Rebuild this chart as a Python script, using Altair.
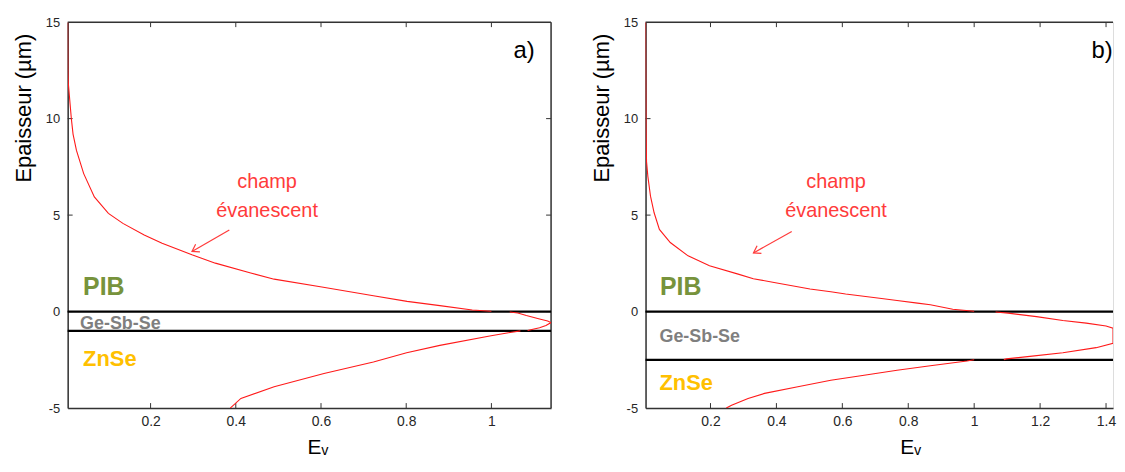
import altair as alt
import pandas as pd

FONT = "Liberation Sans"
RED = "#ff1a1a"
TXT_RED = "#ff3b3b"
BORDER = "#333333"
H = 388

# ---------------- data ----------------
y_ticks = [-5, 0, 5, 10, 15]

# panel a)
a_x_ticks = [0.2, 0.4, 0.6, 0.8, 1]
a_pib_x = [0.0054, 0.006, 0.007, 0.014, 0.018, 0.026, 0.043, 0.068, 0.101, 0.135, 0.185,
           0.227, 0.297, 0.352, 0.435, 0.49, 0.602, 0.685, 0.723, 0.802, 0.879, 0.955, 1.0]
a_pib_y = [15, 12.5, 11.8, 10.0, 9.2, 8.35, 7.15, 5.94, 5.09, 4.57, 3.97,
           3.54, 2.94, 2.51, 2.0, 1.68, 1.27, 0.96, 0.82, 0.53, 0.31, 0.08, 0.02]
a_gss_x = [1.043, 1.062, 1.082, 1.113, 1.132, 1.14, 1.128, 1.113, 1.10, 1.085]
a_gss_y = [-0.02, -0.07, -0.2, -0.38, -0.49, -0.57, -0.72, -0.84, -0.9, -0.98]
a_zn_x = [1.068, 1.04, 0.996, 0.879, 0.801, 0.723, 0.607, 0.49, 0.412, 0.387]
a_zn_y = [-1.0, -1.1, -1.27, -1.75, -2.13, -2.61, -3.21, -3.9, -4.5, -5.0]
a_interfaces = [0, -1]

# panel b)
b_x_ticks = [0.2, 0.4, 0.6, 0.8, 1, 1.2, 1.4]
b_pib_x = [0.003, 0.0045, 0.006, 0.010, 0.018, 0.029, 0.045, 0.078, 0.132, 0.197, 0.284,
           0.33, 0.393, 0.502, 0.565, 0.61, 0.719, 0.766, 0.828, 0.867, 0.935, 1.0]
b_pib_y = [15, 9.5, 7.78, 7.01, 5.98, 5.12, 4.26, 3.58, 2.89, 2.37, 1.94,
           1.70, 1.51, 1.17, 1.03, 0.91, 0.68, 0.57, 0.44, 0.35, 0.12, 0.02]
b_gss_x = [1.065, 1.103, 1.189, 1.269, 1.34, 1.40, 1.4212, 1.4212, 1.37, 1.269, 1.169, 1.098, 1.09]
b_gss_y = [-0.02, -0.08, -0.26, -0.46, -0.6, -0.75, -0.86, -1.64, -1.87, -2.13, -2.32, -2.45, -2.49]
b_zn_x = [1.0, 0.978, 0.867, 0.766, 0.666, 0.565, 0.465, 0.364, 0.314, 0.264, 0.248]
b_zn_y = [-2.5, -2.56, -2.81, -3.04, -3.3, -3.56, -3.9, -4.24, -4.5, -4.85, -5.0]
b_interfaces = [0, -2.5]


def curve_df(segments):
    rows = []
    for name, xs, ys in segments:
        for i, (x, y) in enumerate(zip(xs, ys)):
            rows.append({"seg": name, "i": i, "x": x, "y": y})
    return pd.DataFrame(rows)


ONE = pd.DataFrame({"k": [0]})


def panel(segments, interfaces, xdomain, xticks, width, tag, lay, draw_right):
    xs = alt.Scale(domain=xdomain, nice=False, zero=False)
    ys = alt.Scale(domain=[-5, 15], nice=False, zero=False)
    xaxis = alt.Axis(values=xticks, labelExpr="'' + datum.value", ticks=False, tickSize=0,
                     grid=False, domainColor=BORDER, domainWidth=1.5,
                     labelFont=FONT, labelFontSize=14, labelColor="#262626", labelPadding=7,
                     titleFont=FONT, titleFontSize=21, titleFontWeight="normal",
                     titleColor="black", titleX=lay["xtitle"], titleY=29)
    yaxis = alt.Axis(values=y_ticks, labelExpr="'' + datum.value", ticks=False, tickSize=0,
                     grid=False, domainColor=BORDER, domainWidth=1.5,
                     labelFont=FONT, labelFontSize=13, labelColor="#262626", labelPadding=8,
                     titleFont=FONT, titleFontSize=22, titleFontWeight="normal",
                     titleColor="black", titleX=-32, titleY=86)

    curve = alt.Chart(curve_df(segments)).mark_line(color=RED, strokeWidth=1.1, clip=True).encode(
        x=alt.X("x:Q", scale=xs, axis=xaxis, title="Eᵥ"),
        y=alt.Y("y:Q", scale=ys, axis=yaxis, title="Epaisseur (µm)"),
        detail="seg:N", order="i:Q")

    layers_lines = alt.Chart(pd.DataFrame({"v": interfaces})).mark_rule(
        color="black", strokeWidth=2.4).encode(y=alt.Y("v:Q", scale=ys))

    xt = pd.DataFrame({"t": xticks})
    yt = pd.DataFrame({"t": y_ticks[1:-1]})
    tick_b = alt.Chart(xt).mark_rule(color=BORDER, strokeWidth=1).encode(
        x=alt.X("t:Q", scale=xs), y=alt.value(H), y2=alt.value(H - 5))
    tick_t = alt.Chart(xt).mark_rule(color=BORDER, strokeWidth=1).encode(
        x=alt.X("t:Q", scale=xs), y=alt.value(0), y2=alt.value(5))
    tick_l = alt.Chart(yt).mark_rule(color=BORDER, strokeWidth=1).encode(
        y=alt.Y("t:Q", scale=ys), x=alt.value(0), x2=alt.value(5))
    top_border = alt.Chart(ONE).mark_rule(color=BORDER, strokeWidth=1.5).encode(y=alt.value(0))

    parts = [top_border, tick_b, tick_t, tick_l]
    if draw_right:
        tick_r = alt.Chart(yt).mark_rule(color=BORDER, strokeWidth=1).encode(
            y=alt.Y("t:Q", scale=ys), x=alt.value(width - 5), x2=alt.value(width))
        right_border = alt.Chart(ONE).mark_rule(color=BORDER, strokeWidth=1.5).encode(
            x=alt.value(width))
        parts += [tick_r, right_border]

    def txt(text, x, y, size, color, weight="normal", align="left", baseline="alphabetic"):
        return alt.Chart(ONE).mark_text(text=text, font=FONT, fontSize=size, color=color,
                                        fontWeight=weight, align=align, baseline=baseline).encode(
            x=alt.value(x), y=alt.value(y))

    texts = [
        txt("PIB", lay["pib"][0], lay["pib"][1], 25, "#77933c", "bold"),
        txt("Ge-Sb-Se", lay["gss"][0], lay["gss"][1], 18, "#7f7f7f", "bold"),
        txt("ZnSe", lay["zn"][0], lay["zn"][1], 22, "#ffc000", "bold"),
        txt("champ", lay["champ"][0], lay["champ"][1], 20, TXT_RED, align="center"),
        txt("évanescent", lay["evan"][0], lay["evan"][1], 20, TXT_RED, align="center"),
        txt(tag, lay["tag"][0], lay["tag"][1], 24, "black", align="center", baseline="middle"),
    ]
    (x1, y1), (x2, y2) = lay["arrow"]
    arrow_line = alt.Chart(ONE).mark_rule(color=TXT_RED, strokeWidth=1.2).encode(
        x=alt.value(x1), y=alt.value(y1), x2=alt.value(x2), y2=alt.value(y2))
    arrow_head = alt.Chart(ONE).mark_point(
        shape="M-1,-0.65L0,0L-1,0.65", filled=False, color=TXT_RED, strokeWidth=1.2,
        size=180, angle=150, opacity=1).encode(x=alt.value(x2), y=alt.value(y2))

    return alt.layer(*parts, layers_lines, curve, arrow_line, arrow_head, *texts).properties(
        width=width, height=H)


lay_a = {"xtitle": 251, "pib": (15.5, 274), "gss": (12.5, 309), "zn": (15.5, 346),
         "champ": (200.5, 167), "evan": (200.5, 195.5), "tag": (459, 29),
         "arrow": ((162.5, 209), (125, 230.5))}
lay_b = {"xtitle": 266, "pib": (14.5, 274), "gss": (14, 322), "zn": (14, 369.5),
         "champ": (191.5, 167), "evan": (191.5, 195.5), "tag": (459, 29),
         "arrow": ((147, 210.5), (108.5, 232))}

pa = panel([("PIB", a_pib_x, a_pib_y), ("GSS", a_gss_x, a_gss_y), ("ZnSe", a_zn_x, a_zn_y)],
           a_interfaces, [0.0054, 1.14], a_x_ticks, 486, "a)", lay_a, True)
pb = panel([("PIB", b_pib_x, b_pib_y), ("GSS", b_gss_x, b_gss_y), ("ZnSe", b_zn_x, b_zn_y)],
           b_interfaces, [0.003, 1.4212], b_x_ticks, 470, "b)", lay_b, False)

chart = alt.hconcat(pa, pb, spacing=37).properties(
    padding={"left": 4, "top": 6, "right": 0, "bottom": 0}
).configure_view(strokeWidth=0).configure(background="white")

chart.save("out.html", embed_options={"renderer": "svg", "actions": False})
